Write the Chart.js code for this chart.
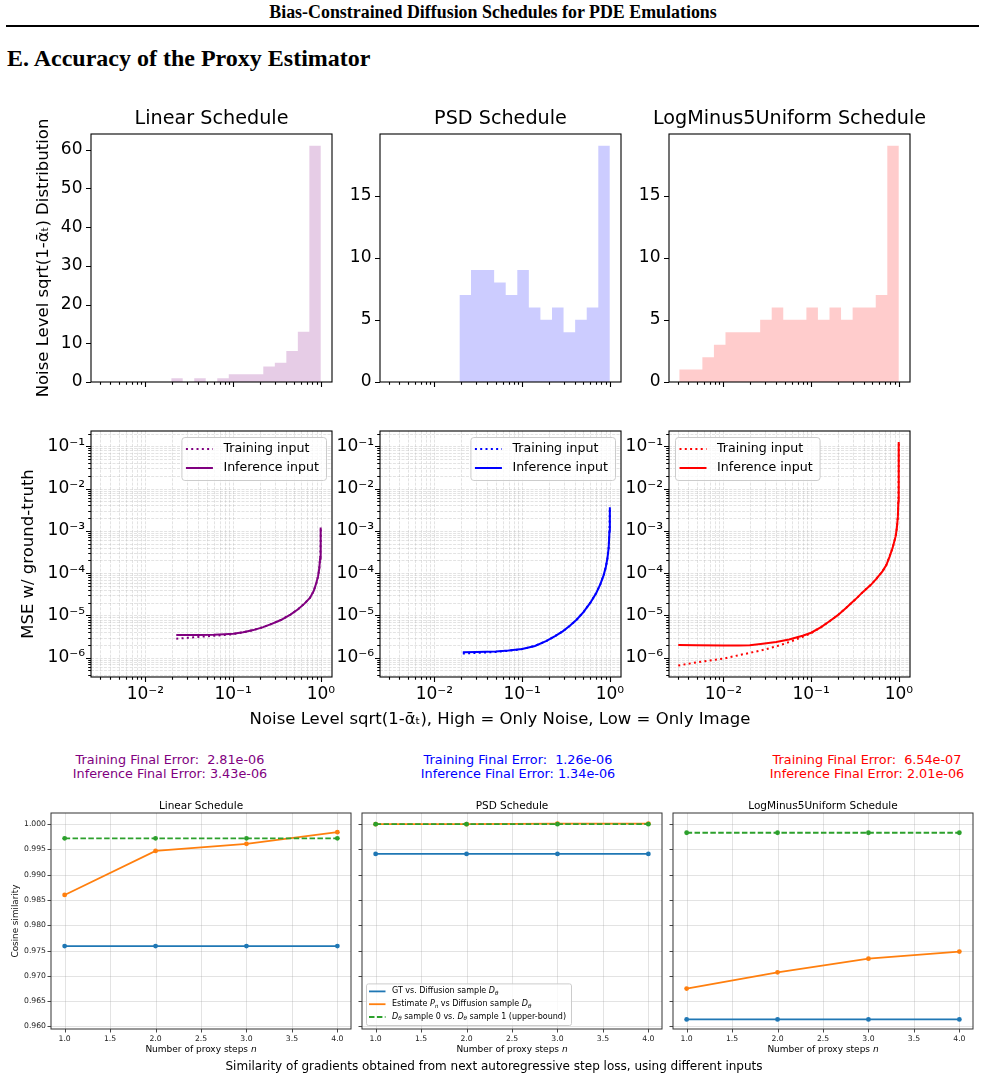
<!DOCTYPE html>
<html>
<head>
<meta charset="utf-8">
<script src="https://cdn.jsdelivr.net/npm/chart.js@4.4.1/dist/chart.umd.min.js"></script>
<style>
  body { margin: 0; width: 985px; height: 1079px; background: #fff; position: relative; overflow: hidden; font-family: "DejaVu Sans", sans-serif; }
  canvas { position: absolute; }
  .txt { position: absolute; white-space: pre; transform: translate(-50%, -50%); line-height: 1; color: #000; }
  .rot { transform: translate(-50%, -50%) rotate(-90deg); }
  .left { transform: translate(0, -50%); }
  .serif { font-family: "Liberation Serif", "Times New Roman", serif; font-weight: bold; }
  .rule { position: absolute; left: 6px; top: 25px; width: 973px; height: 1.5px; background: #000; }
</style>
</head>
<body>
<div class="rule"></div>
<script>
const FONT = '"DejaVu Sans", sans-serif';

// ---- data ----
const scheduleTitles = ['Linear Schedule', 'PSD Schedule', 'LogMinus5Uniform Schedule'];
const scheduleColors = ['#800080', '#0000ff', '#ff0000'];
const histColors = ['rgba(128,0,128,0.2)', 'rgba(0,0,255,0.2)', 'rgba(255,0,0,0.2)'];

// noise-level histograms: [lowest, highest] noise level of the bins, then the count in each bin
const linearHistRange = [0.0197, 1];
const linearHistCounts = [1, 0, 1, 0, 1, 2, 2, 2, 4, 5, 8, 13, 61];
const psdHistRange = [0.0193, 1];
const psdHistCounts = [7, 9, 9, 8, 7, 9, 6, 5, 6, 4, 5, 6, 19];
const logHistRange = [0.00314, 1];
const logHistCounts = [1, 1, 2, 3, 4, 4, 4, 5, 6, 5, 5, 6, 5, 6, 5, 6, 6, 7, 19];

// MSE vs noise level
const linearNoise = [0.0225, 0.03, 0.04, 0.06, 0.08, 0.1, 0.13, 0.17, 0.22, 0.28, 0.35, 0.45, 0.55, 0.65, 0.75, 0.83, 0.89, 0.93, 0.96, 0.98, 0.99, 0.997, 1.0];
const linearInferMSE = [3.43e-6, 3.43e-6, 3.45e-6, 3.5e-6, 3.6e-6, 3.7e-6, 4.0e-6, 4.5e-6, 5.3e-6, 6.4e-6, 7.8e-6, 1.05e-5, 1.4e-5, 1.9e-5, 2.6e-5, 3.8e-5, 5.9e-5, 8.5e-5, 1.3e-4, 2.2e-4, 3.5e-4, 6e-4, 1.2e-3];
const linearTrainMSE = [2.81e-6, 2.95e-6, 3.1e-6, 3.3e-6, 3.45e-6, 3.6e-6, 4.0e-6, 4.5e-6, 5.3e-6, 6.4e-6, 7.8e-6, 1.05e-5, 1.4e-5, 1.9e-5, 2.6e-5, 3.8e-5, 5.9e-5, 8.5e-5, 1.3e-4, 2.2e-4, 3.5e-4, 6e-4, 1.2e-3];

const psdNoise = [0.0211, 0.03, 0.05, 0.07, 0.1, 0.14, 0.19, 0.24, 0.29, 0.35, 0.42, 0.5, 0.6, 0.7, 0.78, 0.85, 0.9, 0.94, 0.97, 0.99, 1.0];
const psdInferMSE = [1.34e-6, 1.36e-6, 1.4e-6, 1.48e-6, 1.6e-6, 1.9e-6, 2.5e-6, 3.3e-6, 4.2e-6, 5.7e-6, 8e-6, 1.2e-5, 2e-5, 3.4e-5, 5.5e-5, 9e-5, 1.4e-4, 2.3e-4, 4e-4, 1e-3, 3.6e-3];
const psdTrainMSE = [1.26e-6, 1.3e-6, 1.37e-6, 1.46e-6, 1.6e-6, 1.9e-6, 2.5e-6, 3.3e-6, 4.2e-6, 5.7e-6, 8e-6, 1.2e-5, 2e-5, 3.4e-5, 5.5e-5, 9e-5, 1.4e-4, 2.3e-4, 4e-4, 1e-3, 3.6e-3];

const logNoise = [0.00306, 0.005, 0.01, 0.015, 0.02, 0.028, 0.04, 0.056, 0.08, 0.1, 0.13, 0.162, 0.2, 0.25, 0.32, 0.39, 0.48, 0.55, 0.65, 0.72, 0.78, 0.85, 0.92, 0.95, 0.975, 0.987, 0.993, 0.997, 1.0];
const logInferMSE = [2.01e-6, 1.98e-6, 1.95e-6, 1.95e-6, 1.98e-6, 2.15e-6, 2.35e-6, 2.7e-6, 3.3e-6, 3.9e-6, 5.3e-6, 7.3e-6, 1.0e-5, 1.5e-5, 2.4e-5, 3.6e-5, 5.3e-5, 7.2e-5, 1.1e-4, 1.55e-4, 2.4e-4, 4e-4, 7.5e-4, 1.2e-3, 2.2e-3, 5e-3, 1.6e-2, 4e-2, 1.26e-1];
const logTrainMSE = [6.54e-7, 7.8e-7, 9.5e-7, 1.15e-6, 1.3e-6, 1.52e-6, 1.85e-6, 2.34e-6, 3.1e-6, 3.8e-6, 5.3e-6, 7.3e-6, 1.0e-5, 1.5e-5, 2.4e-5, 3.6e-5, 5.3e-5, 7.2e-5, 1.1e-4, 1.55e-4, 2.4e-4, 4e-4, 7.5e-4, 1.2e-3, 2.2e-3, 5e-3, 1.6e-2, 4e-2, 1.26e-1];

const finalErrors = [
  ['Training Final Error:  2.81e-06', 'Inference Final Error: 3.43e-06'],
  ['Training Final Error:  1.26e-06', 'Inference Final Error: 1.34e-06'],
  ['Training Final Error:  6.54e-07', 'Inference Final Error: 2.01e-06']
];

// cosine similarity vs proxy steps
const proxySteps = [1, 2, 3, 4];
const linearGT = [0.9759, 0.9759, 0.9759, 0.9759];
const linearEstimate = [0.9860, 0.9947, 0.9961, 0.9984];
const linearUpper = [0.9972, 0.9972, 0.9972, 0.9972];
const psdGT = [0.9941, 0.9941, 0.9941, 0.9941];
const psdEstimate = [1.0000, 1.0000, 1.0001, 1.0001];
const psdUpper = [1.0000, 1.0000, 1.0000, 1.0000];
const logGT = [0.9614, 0.9614, 0.9614, 0.9614];
const logEstimate = [0.9675, 0.9707, 0.9734, 0.9748];
const logUpper = [0.9983, 0.9983, 0.9983, 0.9983];

// tick labels
const noiseTicks = [0.01, 0.1, 1];
const mseTicks = [1e-6, 1e-5, 1e-4, 1e-3, 1e-2, 1e-1];
const linearCountTicks = [0, 10, 20, 30, 40, 50, 60];
const psdCountTicks = [0, 5, 10, 15];
const cosineTicks = [0.960, 0.965, 0.970, 0.975, 0.980, 0.985, 0.990, 0.995, 1.000];
const stepTicks = [1.0, 1.5, 2.0, 2.5, 3.0, 3.5, 4.0];

// ---- helpers ----
const SUP = {'-': '⁻', '0': '⁰', '1': '¹', '2': '²', '3': '³', '4': '⁴', '5': '⁵', '6': '⁶', '7': '⁷', '8': '⁸', '9': '⁹'};
const pow10 = v => '10' + String(Math.round(Math.log10(v))).split('').map(ch => SUP[ch]).join('');

function logMinor(min, max) {
  const out = [];
  for (let e = Math.floor(Math.log10(min)); e <= Math.ceil(Math.log10(max)); e++) {
    for (let m = 2; m <= 9; m++) {
      const v = m * Math.pow(10, e);
      if (v >= min && v <= max) out.push(v);
    }
  }
  return out;
}

function histPoints(range, counts) {
  const [lo, hi] = range, n = counts.length;
  const pts = counts.map((c, i) => ({x: lo * Math.pow(hi / lo, i / n), y: c}));
  pts.push({x: hi, y: counts[n - 1]});
  return pts;
}

const xy = (xs, ys) => xs.map((x, i) => ({x, y: ys[i]}));

function richDraw(ctx, segs, x, y, size, draw) {
  let cx = x;
  for (const [str, style] of segs) {
    const sub = style === 'sub';
    const fs = sub ? size * 0.7 : size;
    ctx.font = `${style ? 'italic ' : ''}${fs}px ${FONT}`;
    if (draw) ctx.fillText(str, cx, sub ? y + size * 0.25 : y);
    cx += ctx.measureText(str).width;
  }
  return cx - x;
}

// matplotlib-like frame, ticks, grid, y title and inset legend
const mplPlugin = {
  id: 'mpl',
  beforeDatasetsDraw(chart, args, o) {
    if (!o.grid) return;
    const {ctx, chartArea: a, scales: {x, y}} = chart;
    ctx.save();
    ctx.strokeStyle = o.grid.color;
    ctx.lineWidth = o.grid.width;
    ctx.setLineDash(o.grid.dash);
    ctx.beginPath();
    x.ticks.forEach(t => {
      if (!t.major && !o.grid.minor) return;
      const px = Math.round(x.getPixelForValue(t.value)) + 0.5;
      if (px < a.left || px > a.right) return;
      ctx.moveTo(px, a.top); ctx.lineTo(px, a.bottom);
    });
    y.ticks.forEach(t => {
      if (!t.major && !o.grid.minor) return;
      const py = Math.round(y.getPixelForValue(t.value)) + 0.5;
      if (py < a.top || py > a.bottom) return;
      ctx.moveTo(a.left, py); ctx.lineTo(a.right, py);
    });
    ctx.stroke();
    ctx.restore();
  },
  afterDatasetsDraw(chart, args, o) {
    const {ctx, chartArea: a, scales: {x, y}} = chart;
    ctx.save();
    ctx.strokeStyle = o.frame;
    ctx.lineWidth = o.tickWidth;
    ctx.beginPath();
    x.ticks.forEach(t => {
      const px = Math.round(x.getPixelForValue(t.value)) + 0.5;
      if (px < a.left - 1 || px > a.right + 1) return;
      ctx.moveTo(px, a.bottom); ctx.lineTo(px, a.bottom + (t.major ? o.tickLen[0] : o.tickLen[1]));
    });
    y.ticks.forEach(t => {
      const py = Math.round(y.getPixelForValue(t.value)) + 0.5;
      if (py < a.top - 1 || py > a.bottom + 1) return;
      ctx.moveTo(a.left, py); ctx.lineTo(a.left - (t.major ? o.tickLen[0] : o.tickLen[1]), py);
    });
    ctx.stroke();
    ctx.lineWidth = o.frameWidth;
    ctx.strokeRect(a.left, a.top, a.right - a.left, a.bottom - a.top);
    if (o.yTitle) {
      ctx.save();
      ctx.translate(a.left - o.yTitle.dx, (a.top + a.bottom) / 2);
      ctx.rotate(-Math.PI / 2);
      ctx.font = `${o.yTitle.size}px ${FONT}`;
      ctx.fillStyle = '#111';
      ctx.textAlign = 'center';
      ctx.textBaseline = 'middle';
      ctx.fillText(o.yTitle.text, 0, 0);
      ctx.restore();
    }
    if (o.legend) drawLegend(ctx, a, o.legend);
    ctx.restore();
  }
};

function drawLegend(ctx, a, L) {
  ctx.save();
  ctx.textBaseline = 'middle';
  const tw = Math.max(...L.items.map(it => richDraw(ctx, it.label, 0, 0, L.size, false)));
  const w = L.padL + L.handle + L.gap + tw + L.padR;
  const h = L.padY * 2 + L.rowH * L.items.length;
  const bx = L.loc === 'ur' ? a.right - L.off - w : a.left + L.off;
  const by = L.loc === 'll' ? a.bottom - L.off - h : a.top + L.off;
  ctx.beginPath();
  ctx.roundRect(bx + 0.5, by + 0.5, w, h, L.radius);
  ctx.fillStyle = 'rgba(255,255,255,0.8)';
  ctx.fill();
  ctx.strokeStyle = '#cccccc';
  ctx.lineWidth = 1;
  ctx.stroke();
  L.items.forEach((it, i) => {
    const cy = by + L.padY + L.rowH * (i + 0.5);
    ctx.beginPath();
    ctx.setLineDash(it.dash || []);
    ctx.strokeStyle = it.color;
    ctx.lineWidth = it.width;
    ctx.moveTo(bx + L.padL, cy); ctx.lineTo(bx + L.padL + L.handle, cy);
    ctx.stroke();
    ctx.setLineDash([]);
    ctx.fillStyle = '#000';
    richDraw(ctx, it.label, bx + L.padL + L.handle + L.gap, cy, L.size, true);
  });
  ctx.restore();
}

function axis(o) {
  return {
    type: o.type || 'linear', min: o.min, max: o.max, position: o.pos,
    grid: {display: false, drawTicks: false},
    border: {display: false},
    afterBuildTicks: s => {
      s.ticks = o.ticks.map(v => ({value: v, major: true}))
        .concat((o.minor || []).map(v => ({value: v, major: false})))
        .sort((p, q) => p.value - q.value);
    },
    afterFit: s => { if (o.pos === 'bottom') s.height = o.size; else s.width = o.size; },
    ticks: {
      autoSkip: false, maxRotation: 0, minRotation: 0, padding: o.pad, color: o.color || '#000',
      font: {family: FONT, size: o.font},
      callback: (v, i, ts) => (o.fmt && ts[i] && ts[i].major) ? o.fmt(v) : ''
    }
  };
}

function panel(rect, m, datasets, xo, yo, mpl) {
  const [x0, y0, x1, y1] = rect;
  const w = x1 - x0 + m.l + m.r, h = y1 - y0 + m.t + m.b;
  const c = document.createElement('canvas');
  c.width = w; c.height = h;
  Object.assign(c.style, {left: (x0 - m.l) + 'px', top: (y0 - m.t) + 'px', width: w + 'px', height: h + 'px'});
  document.body.appendChild(c);
  new Chart(c, {
    type: 'line',
    data: {datasets},
    options: {
      responsive: false, animation: false, devicePixelRatio: 1, events: [],
      layout: {padding: {left: 0, top: m.t, right: m.r, bottom: 0}},
      scales: {
        x: axis({...xo, pos: 'bottom', size: m.b}),
        y: axis({...yo, pos: 'left', size: m.l})
      },
      plugins: {legend: {display: false}, tooltip: {enabled: false}, mpl}
    },
    plugins: [mplPlugin]
  });
}

function text(str, x, y, style, cls) {
  const d = document.createElement('div');
  d.className = 'txt ' + (cls || '');
  d.style.left = x + 'px';
  d.style.top = y + 'px';
  Object.assign(d.style, style || {});
  d.innerHTML = str;
  document.body.appendChild(d);
}

// ---- page text ----
text('Bias-Constrained Diffusion Schedules for PDE Emulations', 493, 13, {fontSize: '17.9px'}, 'serif');
text('E. Accuracy of the Proxy Estimator', 7, 58, {fontSize: '24px'}, 'serif left');

// ---- top row: noise level histograms ----
const topRects = [[91, 134, 332, 382], [380, 134, 621, 382], [669, 134, 910, 382]];
const midRects = [[91, 431, 332, 677], [380, 431, 621, 677], [669, 431, 910, 677]];
const botRects = [[51, 813, 351, 1029], [362, 813, 662, 1029], [673, 813, 973, 1029]];

const noiseMin = 0.0024, noiseMax = 1.34;
const noiseMinor = logMinor(noiseMin, noiseMax);
const mseMin = 3.5e-7, mseMax = 0.23;

const hists = [
  [linearHistRange, linearHistCounts, linearCountTicks, 64.05],
  [psdHistRange, psdHistCounts, psdCountTicks, 19.95],
  [logHistRange, logHistCounts, psdCountTicks, 19.95]
];
hists.forEach(([range, counts, yTicks, yMax], k) => {
  panel(topRects[k], {l: 50, t: 20, r: 16, b: 20},
    [{
      data: histPoints(range, counts), stepped: 'before', fill: 'origin',
      backgroundColor: histColors[k], borderWidth: 0, borderColor: 'rgba(0,0,0,0)', pointRadius: 0
    }],
    {type: 'logarithmic', min: noiseMin, max: noiseMax, ticks: noiseTicks, minor: noiseMinor, font: 17, pad: 7},
    {min: 0, max: yMax, ticks: yTicks, fmt: v => String(v), font: 17, pad: 8.5},
    {frame: '#000', frameWidth: 1.1, tickWidth: 1.1, tickLen: [5, 2.8]});
  const cx = (topRects[k][0] + topRects[k][2]) / 2;
  text(scheduleTitles[k], cx, 118, {fontSize: '19.2px'});
});
text('Noise Level sqrt(1-ᾱₜ) Distribution', 43, 258, {fontSize: '16.5px'}, 'rot');

// ---- middle row: MSE vs noise level ----
const curves = [
  [linearNoise, linearTrainMSE, linearInferMSE, 'ur'],
  [psdNoise, psdTrainMSE, psdInferMSE, 'ur'],
  [logNoise, logTrainMSE, logInferMSE, 'ul']
];
curves.forEach(([xs, train, infer, loc], k) => {
  const col = scheduleColors[k];
  panel(midRects[k], {l: 52, t: 20, r: 16, b: 32},
    [
      {data: xy(xs, train), borderColor: col, borderWidth: 2, borderDash: [2, 3.3], pointRadius: 0, tension: 0, order: 2},
      {data: xy(xs, infer), borderColor: col, borderWidth: 2, pointRadius: 0, tension: 0, order: 1}
    ],
    {type: 'logarithmic', min: noiseMin, max: noiseMax, ticks: noiseTicks, minor: noiseMinor, fmt: pow10, font: 17, pad: 7},
    {type: 'logarithmic', min: mseMin, max: mseMax, ticks: mseTicks, minor: logMinor(mseMin, mseMax), fmt: pow10, font: 17, pad: 6},
    {
      frame: '#000', frameWidth: 1.1, tickWidth: 1.1, tickLen: [5, 2.8],
      grid: {color: 'rgba(176,176,176,0.45)', dash: [3, 1.3], width: 0.8, minor: true},
      legend: {
        loc, off: 6, size: 12.6, handle: 27, gap: 10.5, padL: 4.5, padR: 7, padY: 2.5, rowH: 19, radius: 3,
        items: [
          {label: [['Training input']], color: col, dash: [2, 3.3], width: 2},
          {label: [['Inference input']], color: col, width: 2}
        ]
      }
    });
  const cx = [170, 518, 867][k];
  text(finalErrors[k][0], cx, 760, {fontSize: '12.8px', color: col});
  text(finalErrors[k][1], cx, 774, {fontSize: '12.8px', color: col});
});
text('MSE w/ ground-truth', 28, 554, {fontSize: '16.5px'}, 'rot');
text('Noise Level sqrt(1-ᾱₜ), High = Only Noise, Low = Only Image', 500, 719, {fontSize: '16.5px'});

// ---- bottom row: gradient cosine similarity ----
const sims = [
  [linearGT, linearEstimate, linearUpper],
  [psdGT, psdEstimate, psdUpper],
  [logGT, logEstimate, logUpper]
];
const tabBlue = '#1f77b4', tabOrange = '#ff7f0e', tabGreen = '#2ca02c';
sims.forEach(([gt, est, up], k) => {
  const line = (ys, col, dash, order) => ({
    data: xy(proxySteps, ys), borderColor: col, backgroundColor: col, borderWidth: 1.8,
    borderDash: dash, pointRadius: 2.4, pointBorderWidth: 0, tension: 0, order
  });
  panel(botRects[k], {l: k === 0 ? 46 : 10, t: 10, r: 8, b: 16},
    [line(gt, tabBlue, [], 3), line(est, tabOrange, [], 2), line(up, tabGreen, [5.5, 2.4], 1)],
    {min: 0.85, max: 4.15, ticks: stepTicks, fmt: v => v.toFixed(1), font: 7.7, pad: 5, color: '#222'},
    {min: 0.9595, max: 1.0022, ticks: cosineTicks, fmt: k === 0 ? (v => v.toFixed(3)) : null, font: 7.7, pad: 5, color: '#222'},
    {
      frame: '#333', frameWidth: 1, tickWidth: 0.9, tickLen: [3.5, 2],
      grid: {color: 'rgba(176,176,176,0.35)', dash: [], width: 1, minor: false},
      yTitle: k === 0 ? {text: 'Cosine similarity', size: 8.8, dx: 35} : null,
      legend: k !== 1 ? null : {
        loc: 'll', off: 4, size: 8, handle: 16.5, gap: 6.5, padL: 3, padR: 5, padY: 1.6, rowH: 12.8, radius: 2,
        items: [
          {label: [['GT vs. Diffusion sample '], ['D', 'i'], ['θ', 'sub']], color: tabBlue, width: 1.8},
          {label: [['Estimate '], ['P', 'i'], ['n', 'sub'], [' vs Diffusion sample '], ['D', 'i'], ['θ', 'sub']], color: tabOrange, width: 1.8},
          {label: [['D', 'i'], ['θ', 'sub'], [' sample 0 vs. '], ['D', 'i'], ['θ', 'sub'], [' sample 1 (upper-bound)']], color: tabGreen, width: 1.8, dash: [5.5, 2.4]}
        ]
      }
    });
  const cx = (botRects[k][0] + botRects[k][2]) / 2;
  text(scheduleTitles[k], cx, 805, {fontSize: '10.5px'});
  text('Number of proxy steps <i>n</i>', cx, 1049, {fontSize: '9px'});
});
text('Similarity of gradients obtained from next autoregressive step loss, using different inputs', 494, 1066, {fontSize: '12px'});
</script>
</body>
</html>
